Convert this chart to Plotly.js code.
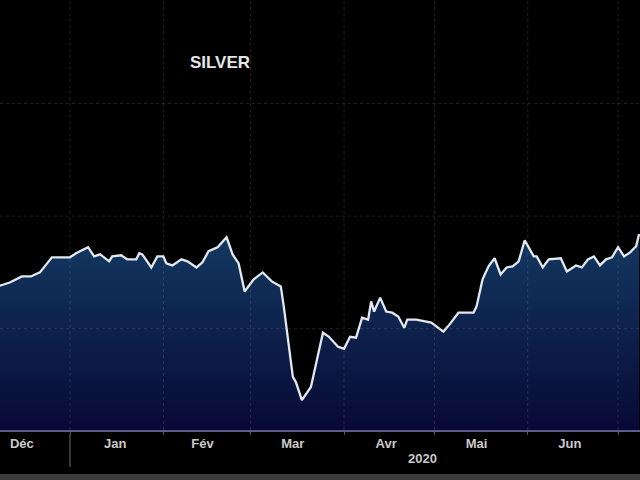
<!DOCTYPE html>
<html>
<head>
<meta charset="utf-8">
<script src="https://cdn.plot.ly/plotly-3.0.1.min.js"></script>
<style>
  html, body { margin: 0; padding: 0; background: #000; }
  #chart { width: 640px; height: 480px; }
</style>
</head>
<body>
<div id="chart"></div>
<script>
// Silver price (USD/oz)
const dates = [
  '2019-12-08','2019-12-12','2019-12-16','2019-12-19','2019-12-22','2019-12-26',
  '2020-01-01','2020-01-03','2020-01-07','2020-01-09','2020-01-11','2020-01-14','2020-01-15',
  '2020-01-18','2020-01-20','2020-01-23','2020-01-24','2020-01-25','2020-01-28','2020-01-30',
  '2020-02-01','2020-02-02','2020-02-04','2020-02-07','2020-02-09','2020-02-12','2020-02-14',
  '2020-02-16','2020-02-19','2020-02-22','2020-02-24','2020-02-26','2020-02-28',
  '2020-03-02','2020-03-05','2020-03-08','2020-03-11','2020-03-12','2020-03-15','2020-03-16',
  '2020-03-18','2020-03-21','2020-03-25','2020-03-27','2020-03-30',
  '2020-04-01','2020-04-03','2020-04-05','2020-04-07','2020-04-09','2020-04-10','2020-04-11',
  '2020-04-13','2020-04-15','2020-04-17','2020-04-19','2020-04-21','2020-04-22','2020-04-25',
  '2020-04-30','2020-05-04','2020-05-06','2020-05-09','2020-05-14','2020-05-15','2020-05-17',
  '2020-05-19','2020-05-21','2020-05-23','2020-05-25','2020-05-27','2020-05-29','2020-05-31',
  '2020-06-03','2020-06-04','2020-06-06','2020-06-08','2020-06-12','2020-06-14','2020-06-17',
  '2020-06-19','2020-06-21','2020-06-23','2020-06-25','2020-06-27','2020-06-29',
  '2020-07-01','2020-07-03','2020-07-05','2020-07-07','2020-07-08'
];
const silverPrice = [
  16.88, 17.05, 17.32, 17.32, 17.50, 18.17,
  18.17, 18.35, 18.62, 18.21, 18.30, 17.99, 18.21,
  18.26, 18.08, 18.08, 18.35, 18.30, 17.72, 18.21,
  18.21, 17.90, 17.81, 18.08, 17.99, 17.72, 17.95,
  18.44, 18.62, 19.06, 18.30, 17.90, 16.65,
  17.19, 17.50, 17.10, 16.88, 15.98, 12.86, 12.63,
  11.83, 12.41, 14.82, 14.64, 14.20,
  14.11, 14.64, 14.60, 15.49, 15.40, 16.21, 15.76,
  16.38, 15.76, 15.71, 15.54, 15.04, 15.40, 15.40,
  15.27, 14.87, 15.18, 15.71, 15.71, 15.98, 17.19,
  17.77, 18.13, 17.41, 17.72, 17.77, 17.99, 18.93,
  18.21, 18.21, 17.72, 18.08, 18.13, 17.54, 17.81,
  17.72, 18.08, 18.21, 17.81, 18.08, 18.17,
  18.62, 18.21, 18.39, 18.66, 19.20
];

const monthLabels = ['Déc', 'Jan', 'Fév', 'Mar', 'Avr', 'Mai', 'Jun'];
const monthLabelDates = ['2019-12-16','2020-01-16','2020-02-14','2020-03-15','2020-04-15','2020-05-15','2020-06-15'];
const monthStarts = ['2020-01-01','2020-02-01','2020-03-01','2020-04-01','2020-05-01','2020-06-01','2020-07-01'];
const yGridValues = [15, 20, 25];
const chartTitle = 'SILVER';
const yearLabel = '2020';
const yearLabelDate = '2020-04-27';

const xRange = ['2019-12-08 18:00', '2020-07-08 07:00'];
const yRange = [10.5, 29.6];

const trace = {
  type: 'scatter',
  mode: 'lines',
  x: dates,
  y: silverPrice,
  line: { color: '#e2e8ef', width: 2.3 },
  fill: 'tozeroy',
  fillgradient: {
    type: 'vertical',
    start: yRange[0],
    stop: 19.2,
    colorscale: [[0, '#070935'], [1, '#133961']]
  },
  hoverinfo: 'skip'
};

const labelFont = { family: 'Liberation Sans, Arial, sans-serif', size: 13, color: '#c9c9c9', weight: 'bold' };
const gridLine = { color: 'rgba(150,150,150,0.22)', width: 1, dash: 'dot' };

const gridShapes = [];
monthStarts.forEach(function (d) {
  gridShapes.push({
    type: 'line', layer: 'above',
    xref: 'x', yref: 'paper',
    x0: d, x1: d, y0: 0, y1: 1,
    line: gridLine
  });
});
yGridValues.forEach(function (v) {
  gridShapes.push({
    type: 'line', layer: 'above',
    xref: 'paper', yref: 'y',
    x0: 0, x1: 1, y0: v, y1: v,
    line: gridLine
  });
});

const layout = {
  width: 640,
  height: 480,
  paper_bgcolor: '#000000',
  plot_bgcolor: '#000000',
  margin: { l: 0, r: 0, t: 0, b: 50 },
  showlegend: false,
  title: {
    text: '<b>' + chartTitle + '</b>',
    x: 220 / 640,
    xanchor: 'center',
    xref: 'paper',
    y: 1 - 62 / 480,
    yanchor: 'middle',
    font: { family: 'Liberation Sans, Arial, sans-serif', size: 17, color: '#e6e6e6' }
  },
  xaxis: {
    type: 'date',
    range: xRange,
    tickmode: 'array',
    tickvals: monthLabelDates,
    ticktext: monthLabels,
    ticks: '',
    ticklen: 0,
    showgrid: false,
    zeroline: false,
    showline: true,
    linecolor: '#5c5c8c',
    linewidth: 2,
    tickfont: labelFont,
    fixedrange: true,
    minor: {
      tickmode: 'array',
      tickvals: monthStarts,
      ticks: 'outside',
      ticklen: 3,
      tickcolor: '#555555',
      showgrid: false
    }
  },
  yaxis: {
    range: yRange,
    tickmode: 'array',
    tickvals: yGridValues,
    showticklabels: false,
    ticks: '',
    showgrid: false,
    zeroline: false,
    showline: false,
    fixedrange: true
  },
  annotations: [
    {
      text: yearLabel,
      x: yearLabelDate,
      xref: 'x',
      y: (430 - 458) / 430,
      yref: 'paper',
      showarrow: false,
      xanchor: 'center',
      yanchor: 'middle',
      font: labelFont
    }
  ],
  shapes: gridShapes.concat([
    {
      type: 'line',
      xref: 'x', yref: 'paper',
      x0: monthStarts[0], x1: monthStarts[0],
      y0: (430 - 434) / 430, y1: (430 - 467) / 430,
      line: { color: '#4a4a4a', width: 1.5 }
    },
    {
      type: 'rect',
      xref: 'paper', yref: 'paper',
      x0: 0, x1: 1,
      y0: (430 - 480) / 430, y1: (430 - 474) / 430,
      fillcolor: '#3c3c3c',
      line: { width: 0 }
    }
  ])
};

Plotly.newPlot('chart', [trace], layout, { displayModeBar: false, staticPlot: true });
</script>
</body>
</html>
